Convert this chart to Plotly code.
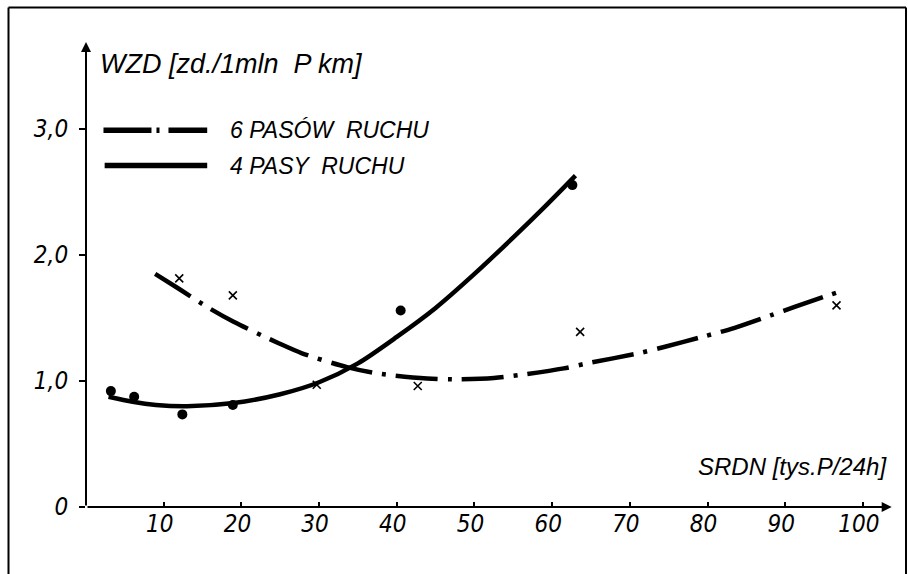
import plotly.graph_objects as go

# ---- data ----
# fitted curve, 6 lanes (dash-dot)
six_curve_x = [8.9, 12, 15.8, 19, 24.8, 27.8, 33.6, 37.5, 43.9, 47.3, 52.5, 56.1, 61.5, 64.5, 71.1, 74.4, 79.3, 83.4, 88.1, 91.3, 97.0]
six_curve_y = [1.85, 1.73, 1.58, 1.47, 1.30, 1.22, 1.11, 1.06, 1.02, 1.013, 1.024, 1.05, 1.10, 1.14, 1.22, 1.27, 1.35, 1.42, 1.52, 1.59, 1.71]
# fitted curve, 4 lanes (solid)
four_curve_x = [2.9, 6, 9, 13, 19, 25, 30, 35, 40, 45, 50, 55, 59, 63]
four_curve_y = [0.875, 0.835, 0.81, 0.80, 0.825, 0.895, 0.99, 1.14, 1.35, 1.58, 1.85, 2.14, 2.38, 2.63]
# observed points
four_pts_x = [3.2, 6.2, 12.4, 18.9, 40.5, 62.6]
four_pts_y = [0.92, 0.875, 0.735, 0.81, 1.56, 2.555]
six_pts_x = [12.0, 18.9, 29.7, 42.7, 63.6, 96.6]
six_pts_y = [1.815, 1.68, 0.97, 0.96, 1.39, 1.60]

x_ticks = [10, 20, 30, 40, 50, 60, 70, 80, 90, 100]
x_ticktext = ["10", "20", "30", "40", "50", "60", "70", "80", "90", "100"]
y_ticks = [0, 1, 2, 3]
y_ticktext = ["0", "1,0", "2,0", "3,0"]

series_names = ["6 PASÓW  RUCHU", "4 PASY  RUCHU"]
y_title = "WZD [zd./1mln  P km]"
x_title = "SRDN [tys.P/24h]"

DASHDOT = "42px,10px,4px,10px"
FONT = "Liberation Sans Narrow, DejaVu Sans Condensed, Liberation Sans, sans-serif"
TEXT_FONT = "Liberation Sans, Arial, sans-serif"

fig = go.Figure()
fig.add_trace(go.Scatter(x=six_curve_x, y=six_curve_y, mode="lines", line=dict(color="black", width=4.5, dash=DASHDOT, shape="spline", smoothing=0.8), hoverinfo="skip"))
fig.add_trace(go.Scatter(x=four_curve_x, y=four_curve_y, mode="lines", line=dict(color="black", width=4.5, shape="spline", smoothing=0.8), hoverinfo="skip"))
fig.add_trace(go.Scatter(x=four_pts_x, y=four_pts_y, mode="markers", marker=dict(symbol="circle", size=10, color="black"), cliponaxis=False))
fig.add_trace(go.Scatter(x=six_pts_x, y=six_pts_y, mode="markers", marker=dict(symbol="x-thin", size=8, line=dict(color="black", width=1.6)), cliponaxis=False))

XMAX = 105.8
YMAX = 4.024

fig.update_layout(
    width=908, height=574,
    margin=dict(l=86, r=0, t=0, b=67),
    paper_bgcolor="white", plot_bgcolor="white",
    showlegend=False,
    font=dict(family=FONT, size=24, color="black", style="italic"),
    xaxis=dict(range=[0, XMAX], showgrid=False, zeroline=False, showline=False,
               tickvals=x_ticks, ticktext=x_ticktext, ticks="inside", ticklen=5, tickwidth=1.5, tickcolor="black",
               ticklabelshift=-4,
               tickfont=dict(family=FONT, size=24, style="italic")),
    yaxis=dict(range=[0, YMAX], showgrid=False, zeroline=False, showline=False,
               tickvals=y_ticks, ticktext=y_ticktext, ticks="outside", ticklen=6, tickwidth=1.5, tickcolor="black",
               ticklabelstandoff=6,
               tickfont=dict(family=FONT, size=24, style="italic")),
)

# axes with arrows
fig.add_annotation(x=0, y=3.69, ax=0, ay=0, xref="x", yref="y", axref="x", ayref="y", text="",
                   showarrow=True, arrowhead=2, arrowsize=1, arrowwidth=2, arrowcolor="black")
fig.add_annotation(x=103.7, y=0, ax=0, ay=0, xref="x", yref="y", axref="x", ayref="y", text="",
                   showarrow=True, arrowhead=2, arrowsize=1, arrowwidth=2, arrowcolor="black")

# axis titles
fig.add_annotation(x=1.6, y=3.52, xref="x", yref="y", text=y_title, showarrow=False, xanchor="left", yanchor="middle",
                   font=dict(family=TEXT_FONT, size=27, style="italic"))
fig.add_annotation(x=103.3, y=0.32, xref="x", yref="y", text=x_title, showarrow=False, xanchor="right", yanchor="middle",
                   font=dict(family=TEXT_FONT, size=24, style="italic"))

# legend drawn by hand
fig.add_shape(type="line", x0=2.25, x1=15.6, y0=2.99, y1=2.99, xref="x", yref="y", line=dict(color="black", width=5.5, dash="48px,5px,3px,9px"))
fig.add_shape(type="line", x0=2.4, x1=15.6, y0=2.71, y1=2.71, xref="x", yref="y", line=dict(color="black", width=5.5))
fig.add_annotation(x=18.3, y=2.99, xref="x", yref="y", text=series_names[0], showarrow=False, xanchor="left", yanchor="middle",
                   font=dict(family=TEXT_FONT, size=23, style="italic"))
fig.add_annotation(x=18.3, y=2.71, xref="x", yref="y", text=series_names[1], showarrow=False, xanchor="left", yanchor="middle",
                   font=dict(family=TEXT_FONT, size=23, style="italic"))

# outer frame of the scanned figure
def px_to_paper_x(px):
    return (px - 86) / 822
def px_to_paper_y(py):
    return 1 - py / 507

fr = dict(color="black", width=2)
fig.add_shape(type="line", xref="paper", yref="paper", x0=px_to_paper_x(8.5), x1=px_to_paper_x(8.5), y0=px_to_paper_y(7.5), y1=px_to_paper_y(580), line=fr)
fig.add_shape(type="line", xref="paper", yref="paper", x0=px_to_paper_x(8.5), x1=px_to_paper_x(906), y0=px_to_paper_y(7.5), y1=px_to_paper_y(7.5), line=fr)
fig.add_shape(type="line", xref="paper", yref="paper", x0=px_to_paper_x(906), x1=px_to_paper_x(906), y0=px_to_paper_y(7.5), y1=px_to_paper_y(580), line=fr)

fig.write_html("out.html")
